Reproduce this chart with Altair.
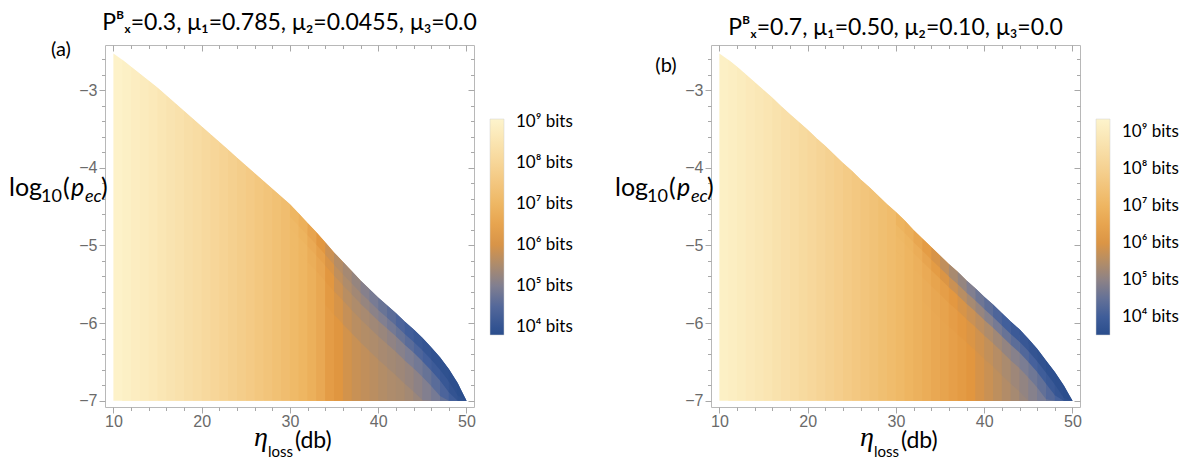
import altair as alt
import pandas as pd

# ---------------- data ----------------
ETA = list(range(10, 51))          # eta_loss grid (dB)
P_FLOOR = -7.0                     # lowest log10(p_ec)

# upper boundary of the computed region, log10(p_ec) at each ETA
EDGE_A = [-2.53, -2.61, -2.70, -2.79, -2.88, -2.97, -3.07, -3.17, -3.27, -3.37,
          -3.47, -3.57, -3.67, -3.77, -3.87, -3.97, -4.07, -4.17, -4.27, -4.37,
          -4.47, -4.59, -4.71, -4.83, -4.96, -5.09, -5.21, -5.33, -5.45, -5.56,
          -5.67, -5.77, -5.87, -5.98, -6.08, -6.19, -6.31, -6.44, -6.59, -6.77, -7.00]
EDGE_B = [-2.53, -2.61, -2.70, -2.80, -2.90, -3.00, -3.10, -3.21, -3.31, -3.41,
          -3.51, -3.62, -3.72, -3.83, -3.94, -4.04, -4.15, -4.25, -4.36, -4.47,
          -4.57, -4.68, -4.80, -4.91, -5.02, -5.13, -5.24, -5.34, -5.45, -5.55,
          -5.66, -5.76, -5.87, -5.98, -6.08, -6.20, -6.33, -6.48, -6.63, -6.80, -7.00]

# log10(bits) in the bulk of each 1-dB column (columns 10-11 ... 49-50)
BASE_A = [9.00, 8.92, 8.84, 8.76, 8.67, 8.58, 8.49, 8.40, 8.31, 8.22,
          8.12, 8.02, 7.92, 7.82, 7.72, 7.62, 7.52, 7.42, 7.31, 7.20,
          7.08, 6.95, 6.80, 6.60, 6.38, 6.18, 6.08, 5.98, 5.88, 5.78,
          5.68, 5.60, 5.54, 5.45, 5.34, 5.20, 5.04, 4.82, 4.54, 4.20]
BASE_B = [9.20, 9.12, 9.03, 8.94, 8.85, 8.75, 8.65, 8.55, 8.44, 8.33,
          8.22, 8.11, 8.00, 7.89, 7.78, 7.67, 7.56, 7.45, 7.34, 7.23,
          7.12, 7.00, 6.88, 6.76, 6.63, 6.50, 6.38, 6.26, 6.12, 5.97,
          5.82, 5.66, 5.51, 5.36, 5.20, 5.03, 4.85, 4.64, 4.38, 4.06]

# log10(bits) in bands just below the boundary (depths in DEPTHS), columns 30..49
NEAR_START = 30
DEPTHS = [0.0, 0.07, 0.16, 0.30, 0.50, 0.80]
NEAR_A = [
    [6.95, 7.05, 7.08, 7.08, 7.08], [6.80, 6.90, 6.95, 6.95, 6.95],
    [6.50, 6.65, 6.75, 6.80, 6.80], [6.15, 6.38, 6.52, 6.58, 6.60],
    [5.85, 6.02, 6.15, 6.22, 6.28], [5.60, 5.72, 5.85, 5.98, 6.10],
    [5.42, 5.52, 5.64, 5.78, 5.94], [5.24, 5.38, 5.52, 5.65, 5.82],
    [5.06, 5.25, 5.45, 5.58, 5.74], [4.90, 5.12, 5.36, 5.52, 5.66],
    [4.74, 5.00, 5.28, 5.45, 5.58], [4.58, 4.86, 5.18, 5.40, 5.52],
    [4.42, 4.72, 5.07, 5.34, 5.48], [4.27, 4.57, 4.96, 5.26, 5.40],
    [4.13, 4.43, 4.85, 5.14, 5.28], [4.03, 4.30, 4.72, 5.02, 5.14],
    [3.95, 4.18, 4.57, 4.88, 4.99], [3.90, 4.08, 4.42, 4.68, 4.78],
    [3.86, 3.98, 4.24, 4.45, 4.52], [3.83, 3.90, 4.05, 4.15, 4.19],
]
NEAR_B = [
    [6.95, 7.08, 7.12, 7.12, 7.12], [6.80, 6.95, 7.00, 7.00, 7.00],
    [6.55, 6.75, 6.85, 6.88, 6.88], [6.25, 6.50, 6.68, 6.74, 6.76],
    [5.95, 6.25, 6.48, 6.58, 6.62], [5.65, 6.00, 6.32, 6.45, 6.48],
    [5.35, 5.78, 6.14, 6.30, 6.36], [5.10, 5.55, 5.95, 6.15, 6.22],
    [4.85, 5.32, 5.78, 6.00, 6.08], [4.62, 5.12, 5.60, 5.84, 5.92],
    [4.42, 4.92, 5.42, 5.68, 5.77], [4.22, 4.72, 5.25, 5.52, 5.62],
    [4.06, 4.55, 5.08, 5.37, 5.47], [3.93, 4.40, 4.93, 5.22, 5.32],
    [3.83, 4.26, 4.78, 5.07, 5.16], [3.75, 4.13, 4.63, 4.92, 4.99],
    [3.68, 4.00, 4.47, 4.75, 4.82], [3.62, 3.88, 4.30, 4.56, 4.62],
    [3.58, 3.76, 4.12, 4.32, 4.36], [3.55, 3.63, 3.90, 4.04, 4.06],
]

# colour-bar ranges, log10(bits)
CDOM_A = [3.80, 9.07]
CDOM_B = [3.52, 9.35]
LEGEND_VALUES = [4, 5, 6, 7, 8, 9]

TITLE_A = "Pᴮₓ=0.3, μ₁=0.785, μ₂=0.0455, μ₃=0.0"
TITLE_B = "Pᴮₓ=0.7, μ₁=0.50, μ₂=0.10, μ₃=0.0"

# ---------------- styling ----------------
X_DOM = [9.05, 50.85]
Y_DOM = [-7.08, -2.42]
XT = list(range(10, 51, 2))
XT_MAJ = [10, 20, 30, 40, 50]
XT_MIN = [v for v in XT if v % 10]
YT = [round(-7 + 0.2 * k, 1) for k in range(23)]
YT_MAJ = [-7, -6, -5, -4, -3]
YT_MIN = [v for v in YT if abs(v - round(v)) > 1e-6]
FRACS = [0, 0.10, 0.22, 0.32, 0.44, 0.60, 0.78, 1.0]
COLORS = ["#2a4d8c", "#44609c", "#7d7e93", "#ab8b6e", "#e2963f", "#eeb662", "#f6d394", "#fdf4cc"]
TICK_C = "#a8a8a8"
LAB_C = "#6a6a6a"
W, H = 369, 362


def build_cells(edge, base, near):
    """Cells in painting order.  Each cell follows the boundary polyline and also
    reaches under the next column / next band (painted afterwards), so no seams show."""
    rows = []
    cid = 0
    n = len(ETA)
    for i in range(n - 1):
        idx = [k for k in (i, i + 1, i + 2) if k < n]
        if ETA[i] >= NEAR_START:
            vals = near[ETA[i] - NEAR_START]
            bands = [(DEPTHS[-1], None, base[i])]
            for k in range(len(vals) - 1, -1, -1):
                lower = DEPTHS[k + 2] if k + 2 < len(DEPTHS) else None
                bands.append((DEPTHS[k], lower, vals[k]))
        else:
            bands = [(0.0, None, base[i])]
        for d0, d1, v in bands:
            pts = []
            for k in idx:
                top = max(edge[k] - d0, P_FLOOR)
                bot = P_FLOOR if d1 is None else max(edge[k] - d1, P_FLOOR)
                pts.append((ETA[k], top, bot))
            if all(p[1] <= P_FLOOR for p in pts[:2]):
                continue
            name = "c%04d" % cid
            for x, top, bot in pts:
                rows.append(dict(cell=name, eta=x, top=top, bot=bot, v=v))
            cid += 1
    return pd.DataFrame(rows)


def text_layer(s, x, y, size, font="Lato", style="normal", align="left", baseline="alphabetic"):
    return alt.Chart(pd.DataFrame({"t": [s]})).mark_text(
        align=align, baseline=baseline, font=font, fontSize=size, fontStyle=style, color="black"
    ).encode(text="t:N", x=alt.value(x), y=alt.value(y))


def panel(edge, base, near, cdom, title, tag, tag_xy):
    df = build_cells(edge, base, near)
    xs = alt.Scale(domain=X_DOM, nice=False, zero=False)
    ys = alt.Scale(domain=Y_DOM, nice=False, zero=False)
    cdomain = [cdom[0] + f * (cdom[1] - cdom[0]) for f in FRACS]
    cs = alt.Scale(domain=cdomain, range=COLORS, interpolate="rgb")
    sup = "['⁰','¹','²','³','⁴','⁵','⁶','⁷','⁸','⁹'][datum.value]"
    legend = alt.Legend(
        type="gradient",
        orient="none", legendX=385, legendY=74, direction="vertical", title=None,
        gradientLength=216, gradientThickness=14, values=LEGEND_VALUES,
        labelExpr="'10' + " + sup + " + ' bits'", labelFont="Lato", labelFontSize=17,
        labelColor="black", labelOffset=12, labelOverlap=False,
        gradientStrokeColor="#d0d0d0", gradientStrokeWidth=0.5,
    )
    x_axis = alt.Axis(
        values=XT, labelExpr="datum.value % 10 === 0 ? datum.label : ''",
        tickSize={"condition": {"test": "datum.value % 10 === 0", "value": 6}, "value": 3.5},
        tickColor=TICK_C, domain=False, grid=False, title=None,
        labelFont="Liberation Sans", labelFontSize=16, labelColor=LAB_C,
        labelPadding=0, labelFlush=False, labelOverlap=False,
    )
    ycond = "abs(datum.value - round(datum.value)) < 0.001"
    y_axis = alt.Axis(
        values=YT, labelExpr=ycond + " ? '−' + abs(round(datum.value)) : ''",
        tickSize={"condition": {"test": ycond, "value": 6}, "value": 3.5},
        tickColor=TICK_C, domain=False, grid=False, title=None,
        labelFont="Liberation Sans", labelFontSize=16, labelColor=LAB_C,
        labelPadding=2, labelFlush=False, labelOverlap=False,
    )
    cells = alt.Chart(df).mark_area(interpolate="linear").encode(
        x=alt.X("eta:Q", scale=xs, axis=x_axis),
        y=alt.Y("top:Q", scale=ys, axis=y_axis),
        y2="bot:Q",
        color=alt.Color("v:Q", scale=cs, legend=legend),
        detail="cell:N",
    )
    edf = pd.DataFrame({"eta": ETA, "edge": edge})

    def mirror(xv, yv, size):
        return alt.Chart(edf).mark_line(opacity=0).encode(
            x=alt.X("eta:Q", scale=xs, axis=alt.Axis(
                orient="top", values=xv, labels=False, tickSize=size, offset=-size,
                domain=False, grid=False, title=None, tickColor=TICK_C)),
            y=alt.Y("edge:Q", scale=ys, axis=alt.Axis(
                orient="right", values=yv, labels=False, tickSize=size, offset=-size,
                domain=False, grid=False, title=None, tickColor=TICK_C)),
        )

    texts = [
        text_layer(tag, tag_xy[0], tag_xy[1], 20, align="center", baseline="middle"),
        # y title  log10(p_ec)
        text_layer("log", -96, 151, 25),
        text_layer("10", -64, 157, 18),
        text_layer("(", -42, 151, 25),
        text_layer("p", -34, 151, 25, style="italic"),
        text_layer("ec", -20, 157, 18, style="italic"),
        text_layer(")", -4, 151, 25),
        # x title  eta_loss (db)
        text_layer("η", 149, H + 39, 28, font="Liberation Serif", style="italic"),
        text_layer("loss", 163, H + 50, 15),
        text_layer("(db)", 190, H + 41, 23),
    ]
    return alt.layer(cells, mirror(XT_MAJ, YT_MAJ, 6), mirror(XT_MIN, YT_MIN, 3.5), *texts).resolve_axis(
        x="independent", y="independent"
    ).properties(
        width=W, height=H,
        title=alt.TitleParams(title, font="Lato", fontSize=23, fontWeight="normal",
                              color="black", offset=5, anchor="middle"),
    )


pa = panel(EDGE_A, BASE_A, NEAR_A, CDOM_A, TITLE_A, "(a)", (-44, 5))
pb = panel(EDGE_B, BASE_B, NEAR_B, CDOM_B, TITLE_B, "(b)", (-45, 21))

chart = alt.hconcat(pa, pb, spacing=40).resolve_scale(
    color="independent"
).resolve_legend(color="independent").properties(
    padding={"left": 0, "top": 3, "right": 0, "bottom": 0}
).configure_view(stroke="#b8b8b8", strokeWidth=1)

chart.save("out.html", embed_options={"renderer": "svg", "actions": False})
